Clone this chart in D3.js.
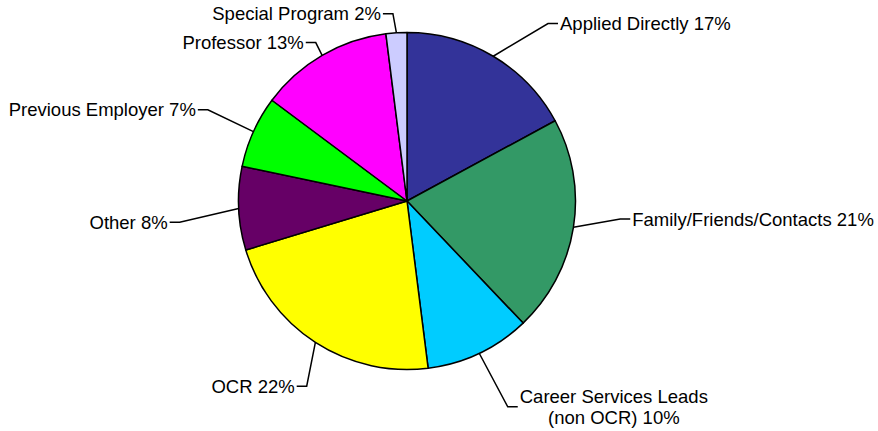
<!DOCTYPE html>
<html>
<head>
<meta charset="utf-8">
<script src="https://cdn.jsdelivr.net/npm/d3@7"></script>
<style>
  html, body { margin: 0; padding: 0; background: #fff; }
  svg text { font-family: "Liberation Sans", Arial, sans-serif; font-size: 18.5px; fill: #000; }
</style>
</head>
<body>
<svg id="chart" width="878" height="431"></svg>
<script>
// data (clockwise from 12 o'clock)
const categories = ["Applied Directly", "Family/Friends/Contacts", "Career Services Leads\n(non OCR)",
    "OCR", "Other", "Previous Employer", "Professor", "Special Program"];
const shares = [17.1, 20.8, 10.1, 22.3, 8.0, 6.9, 12.8, 2.0];
const colors = ["#333399", "#339966", "#00ccff", "#ffff00", "#660066", "#00ff00", "#ff00ff", "#ccccff"];

// leader layout: elbow radius (x pie radius) and angle shift in degrees
const leaderRadius = [1.345, 1.27, 1.36, 1.25, 1.355, 1.3, 1.085, 1.115];
const leaderShift = [7.7, -4.2, -0.7, -4.5, -2.8, 0.3, 0.3, -0.7];

const cx = 407, cy = 201, r = 168.5;
const tail = 10, gap = 2;

const svg = d3.select("#chart");
const g = svg.append("g").attr("transform", `translate(${cx},${cy})`);

const pie = d3.pie().sort(null).value(d => d)(shares);
const arc = d3.arc().innerRadius(0).outerRadius(r);

g.selectAll("path.slice")
    .data(pie)
    .enter().append("path")
    .attr("class", "slice")
    .attr("d", arc)
    .attr("fill", (d, i) => colors[i])
    .attr("stroke", "#000")
    .attr("stroke-width", 1.5)
    .attr("stroke-linejoin", "round");

const polar = (a, rad) => [rad * Math.sin(a), -rad * Math.cos(a)];

pie.forEach((d, i) => {
    const mid = (d.startAngle + d.endAngle) / 2;
    const p0 = polar(mid, r);
    const p1 = polar(mid + leaderShift[i] * Math.PI / 180, r * leaderRadius[i]);
    const right = p1[0] > 0;
    const p2 = [p1[0] + (right ? tail : -tail), p1[1]];

    g.append("polyline")
        .attr("points", [p0, p1, p2].map(p => p.join(",")).join(" "))
        .attr("fill", "none")
        .attr("stroke", "#000")
        .attr("stroke-width", 1.5);

    const lines = categories[i].split("\n");
    lines[lines.length - 1] += " " + Math.round(shares[i]) + "%";
    const lh = 21;
    const top = -(lines.length - 1) * lh / 2;

    const txt = g.append("text")
        .attr("text-anchor", right ? "start" : "end");
    const tx = p2[0] + (right ? gap : -gap);
    lines.forEach((ln, j) => {
        txt.append("tspan")
            .attr("x", tx)
            .attr("y", p1[1] + top + j * lh)
            .attr("dy", "0.36em")
            .text(ln);
    });

    // multi-line labels are centred under the first line
    if (lines.length > 1) {
        const w = txt.node().getBBox().width;
        txt.attr("text-anchor", "middle");
        txt.selectAll("tspan").attr("x", right ? tx + w / 2 : tx - w / 2);
    }
});
</script>
</body>
</html>
